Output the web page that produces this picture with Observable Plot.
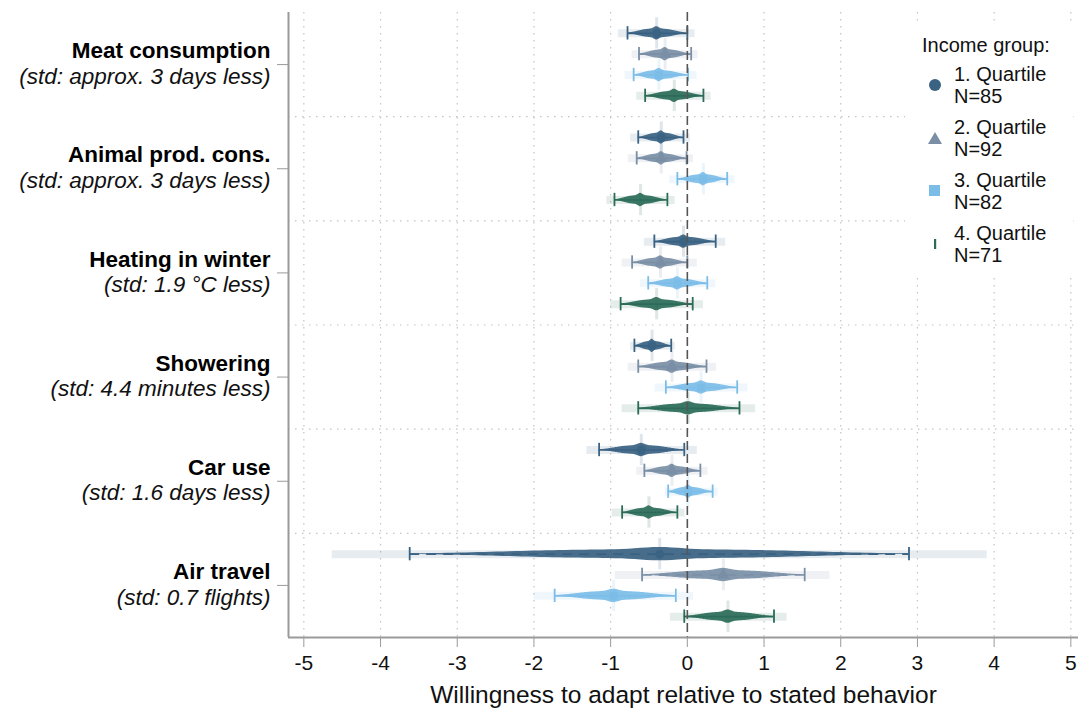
<!DOCTYPE html>
<html>
<head>
<meta charset="utf-8">
<script src="https://cdn.jsdelivr.net/npm/d3@7"></script>
<script src="https://cdn.jsdelivr.net/npm/@observablehq/plot@0.6"></script>
<style>
  html, body { margin: 0; padding: 0; background: #fff; }
  #wrap { position: relative; width: 1081px; height: 713px; font-family: "Liberation Sans", Arial, sans-serif; }
  #legend { position: absolute; left: 905px; top: 22px; width: 168px; height: 256px; background: #fff; color: #111; }
  .lg { position: absolute; font-size: 20px; line-height: 22px; height: 22px; white-space: nowrap; }
  .sym { position: absolute; line-height: 0; }
</style>
</head>
<body>
<div id="wrap"></div>
<script>
// ---------- data ----------
const categories = ["Meat consumption", "Animal prod. cons.", "Heating in winter", "Showering", "Car use", "Air travel"];
const subtitles = ["(std: approx. 3 days less)", "(std: approx. 3 days less)", "(std: 1.9 °C less)", "(std: 4.4 minutes less)", "(std: 1.6 days less)", "(std: 0.7 flights)"];
const groups = ["1. Quartile", "2. Quartile", "3. Quartile", "4. Quartile"];
const groupN = [85, 92, 82, 71];
const legendTitle = "Income group:";
const xTitle = "Willingness to adapt relative to stated behavior";
const xTicks = [-5, -4, -3, -2, -1, 0, 1, 2, 3, 4, 5];
// per category (rows), per quartile (columns)
const estimate = [
  [-0.40, -0.29, -0.37, -0.17],
  [-0.34, -0.34,  0.21, -0.61],
  [-0.05, -0.35, -0.13, -0.40],
  [-0.46, -0.20,  0.18,  0.01],
  [-0.60, -0.20,  0.01, -0.50],
  [-0.36,  0.47, -0.96,  0.53]
];
const ciLow = [
  [-0.78, -0.63, -0.70, -0.55],
  [-0.64, -0.66, -0.13, -0.95],
  [-0.43, -0.72, -0.51, -0.87],
  [-0.69, -0.64, -0.28, -0.64],
  [-1.15, -0.56, -0.25, -0.85],
  [-3.62, -0.59, -1.73, -0.04]
];
const ciHigh = [
  [ 0.00,  0.05,  0.01,  0.21],
  [-0.05, -0.01,  0.52, -0.26],
  [ 0.37,  0.00,  0.26,  0.07],
  [-0.21,  0.25,  0.65,  0.68],
  [-0.04,  0.17,  0.33, -0.13],
  [ 2.89,  1.53, -0.15,  1.13]
];
const outerLow = [
  [-0.90, -0.72, -0.81, -0.66],
  [-0.74, -0.77, -0.23, -1.05],
  [-0.56, -0.85, -0.61, -1.00],
  [-0.74, -0.77, -0.42, -0.85],
  [-1.31, -0.66, -0.29, -0.98],
  [-4.63, -0.94, -2.00, -0.22]
];
const outerHigh = [
  [ 0.10,  0.14,  0.13,  0.31],
  [ 0.04,  0.08,  0.62, -0.16],
  [ 0.50,  0.13,  0.37,  0.21],
  [-0.16,  0.38,  0.79,  0.89],
  [ 0.13,  0.27,  0.40, -0.03],
  [ 3.91,  1.86,  0.08,  1.30]
];
const colors = ["#3a6282", "#7a8fa6", "#7cbde8", "#2b6b58"];

// ---------- build tables ----------
const xDomain = [-5.2, 5.1];
const rowsPerCat = 5;
const rows = [];
categories.forEach((c, i) => groups.forEach((g, j) => {
  rows.push({cat: c, q: g, qi: j, row: i * rowsPerCat + j + 1,
    est: estimate[i][j], lo: ciLow[i][j], hi: ciHigh[i][j], olo: outerLow[i][j], ohi: outerHigh[i][j]});
}));
const cats = categories.map((c, i) => ({name: c, sub: subtitles[i], center: i * rowsPerCat + 2.5}));
const separators = categories.slice(1).map((c, i) => (i + 1) * rowsPerCat);

// spindle outline derived from each estimate and its interval
const H = 0.32;
const spindle = [];
rows.forEach((d, k) => {
  for (let s = -40; s <= 40; s++) {
    const t = s / 40;
    const x = t < 0 ? d.est + t * (d.est - d.lo) : d.est + t * (d.hi - d.est);
    const body = Math.exp(-Math.pow(Math.abs(t) / 0.72, 3));
    const peak = Math.exp(-0.5 * Math.pow(t / 0.08, 2));
    const h = H * (0.65 * body + 0.35 * peak);
    spindle.push({key: k, q: d.q, x, y1: d.row - h, y2: d.row + h});
  }
});

const dashed = d => d.cat === "Air travel" && d.qi < 2;

const chart = Plot.plot({
  width: 1081,
  height: 713,
  marginLeft: 288,
  marginRight: 3,
  marginTop: 12,
  marginBottom: 76,
  style: {fontFamily: "'Liberation Sans', Arial, sans-serif", fontSize: "22px", color: "#111", background: "#fff"},
  x: {domain: xDomain},
  y: {domain: [0, rowsPerCat * categories.length], reverse: true, axis: null},
  color: {domain: groups, range: colors},
  marks: [
    Plot.ruleX(xTicks.filter(v => v !== 0), {stroke: "#c4c4c4", strokeDasharray: "1.5,5.5", strokeWidth: 1.2}),
    Plot.ruleY(separators, {stroke: "#c4c4c4", strokeDasharray: "1.5,5.5", strokeWidth: 1.2}),
    // outer faint interval
    Plot.ruleY(rows, {y: "row", x1: "olo", x2: "ohi", stroke: "q", strokeWidth: 8, strokeOpacity: 0.12}),
    // faint vertical glow at estimate
    Plot.ruleX(rows, {x: "est", y1: d => d.row - 0.75, y2: d => d.row + 0.75, stroke: "q", strokeWidth: 3, strokeOpacity: 0.16}),
    // thin CI line
    Plot.ruleY(rows.filter(d => !dashed(d)), {y: "row", x1: "lo", x2: "hi", stroke: "q", strokeWidth: 1.6}),
    Plot.ruleY(rows.filter(dashed), {y: "row", x1: "lo", x2: "hi", stroke: "q", strokeWidth: 1.6, strokeDasharray: "10,7"}),
    // caps
    Plot.ruleX(rows, {x: "lo", y1: d => d.row - 0.32, y2: d => d.row + 0.32, stroke: "q", strokeWidth: 1.8}),
    Plot.ruleX(rows, {x: "hi", y1: d => d.row - 0.32, y2: d => d.row + 0.32, stroke: "q", strokeWidth: 1.8}),
    // spindle
    Plot.areaY(spindle, {x: "x", y1: "y1", y2: "y2", z: "key", fill: "q", fillOpacity: 0.92, curve: "linear"}),
    Plot.dot(rows.filter(d => d.qi < 3), {x: "est", y: "row", fill: "q", r: 4.5,
      symbol: d => ["circle", "triangle", "square"][d.qi]}),
    // zero line
    Plot.ruleX([0], {stroke: "#555", strokeWidth: 1.6, strokeDasharray: "9,4"}),
    // frame
    Plot.ruleX([xDomain[0]], {stroke: "#9a9a9a", strokeWidth: 2}),
    Plot.ruleY([rowsPerCat * categories.length], {stroke: "#9a9a9a", strokeWidth: 2}),
    Plot.axisX({ticks: xTicks, tickSize: 10, tickPadding: 8, stroke: "#9a9a9a", fill: "#111", fontSize: 21, label: null, tickFormat: d => String(d)}),
    Plot.axisY({ticks: cats.map(d => d.center), tickSize: 11, stroke: "#9a9a9a", tickFormat: () => "", label: null}),
    // category labels
    Plot.text(cats, {y: "center", text: "name", frameAnchor: "left", textAnchor: "end", dx: -18, dy: -13.5, fontWeight: "bold", fontSize: 22.5, fill: "#000"}),
    Plot.text(cats, {y: "center", text: "sub", frameAnchor: "left", textAnchor: "end", dx: -18, dy: 12, fontStyle: "italic", fontSize: 22.5, fill: "#111"}),
    Plot.text([xTitle], {frameAnchor: "bottom", lineAnchor: "middle", dy: 58, fontSize: 24.5, fill: "#111"})
  ]
});

const wrap = document.getElementById("wrap");
wrap.appendChild(chart);

// legend (HTML overlay)
const lg = document.createElement("div");
lg.id = "legend";
const ox = 905, oy = 22;
const add = (html, x, y, cls) => {
  const e = document.createElement("div");
  e.className = cls;
  e.style.left = (x - ox) + "px";
  e.style.top = (y - oy) + "px";
  e.innerHTML = html;
  lg.appendChild(e);
};
add(legendTitle, 922, 34, "lg");
const symSvg = [
  c => `<svg width="14" height="14"><circle cx="7" cy="7" r="6" fill="${c}"/></svg>`,
  c => `<svg width="16" height="14"><polygon points="8,1 15,13 1,13" fill="${c}"/></svg>`,
  c => `<svg width="12" height="12"><rect x="0" y="0" width="11" height="11" fill="${c}"/></svg>`,
  c => `<svg width="6" height="12"><rect x="2" y="1" width="2.2" height="10" fill="${c}"/></svg>`
];
const symW = [14, 16, 12, 6], symH = [14, 14, 12, 12];
groups.forEach((g, j) => {
  const cy = 85 + j * 53;
  add(symSvg[j](colors[j]), 935 - symW[j] / 2, cy - symH[j] / 2, "sym");
  add(g, 954, cy - 22, "lg");
  add("N=" + groupN[j], 954, cy, "lg");
});
wrap.appendChild(lg);
</script>
</body>
</html>
